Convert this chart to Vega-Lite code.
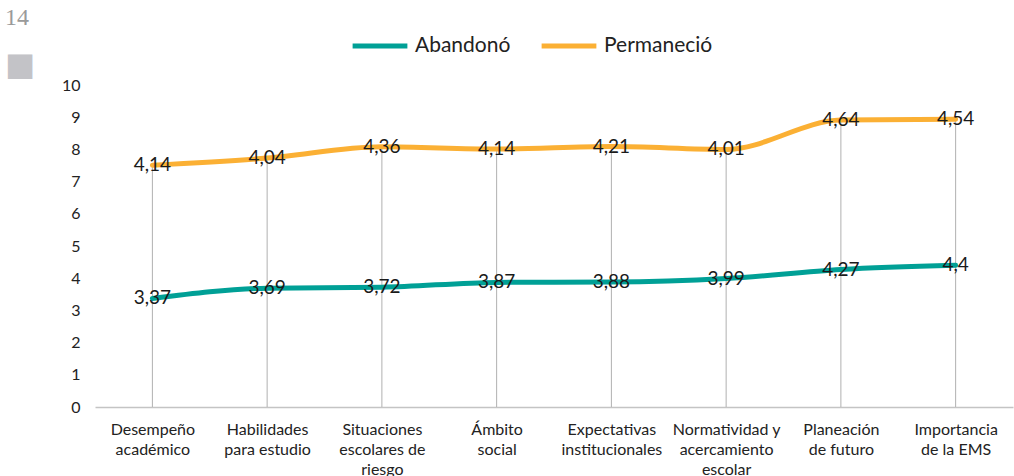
{
  "$schema": "https://vega.github.io/schema/vega-lite/v6.json",
  "width": 918,
  "height": 322,
  "autosize": {"type": "none"},
  "padding": {"left": 95, "top": 85, "right": 1, "bottom": 69},
  "config": {
    "locale": {"number": {"decimal": ",", "thousands": ".", "grouping": [3], "currency": ["", ""]}},
    "view": {"stroke": null},
    "font": "Lato"
  },
  "title": {
    "text": "14",
    "subtitle": "■",
    "anchor": "start",
    "frame": "group",
    "dx": -90,
    "font": "Liberation Serif",
    "fontSize": 24,
    "fontWeight": "normal",
    "color": "#9a9a9a",
    "subtitleFont": "DejaVu Sans",
    "subtitleFontSize": 32,
    "subtitleColor": "#c3c3c7",
    "subtitlePadding": 20,
    "offset": -65
  },
  "data": {
    "values": [
      {"categoria": "Desempeño\nacadémico", "grupo": "Abandonó", "valor": 3.37},
      {"categoria": "Habilidades\npara estudio", "grupo": "Abandonó", "valor": 3.69},
      {"categoria": "Situaciones\nescolares de\nriesgo", "grupo": "Abandonó", "valor": 3.72},
      {"categoria": "Ámbito\nsocial", "grupo": "Abandonó", "valor": 3.87},
      {"categoria": "Expectativas\ninstitucionales", "grupo": "Abandonó", "valor": 3.88},
      {"categoria": "Normatividad y\nacercamiento\nescolar", "grupo": "Abandonó", "valor": 3.99},
      {"categoria": "Planeación\nde futuro", "grupo": "Abandonó", "valor": 4.27},
      {"categoria": "Importancia\nde la EMS", "grupo": "Abandonó", "valor": 4.4},
      {"categoria": "Desempeño\nacadémico", "grupo": "Permaneció", "valor": 4.14},
      {"categoria": "Habilidades\npara estudio", "grupo": "Permaneció", "valor": 4.04},
      {"categoria": "Situaciones\nescolares de\nriesgo", "grupo": "Permaneció", "valor": 4.36},
      {"categoria": "Ámbito\nsocial", "grupo": "Permaneció", "valor": 4.14},
      {"categoria": "Expectativas\ninstitucionales", "grupo": "Permaneció", "valor": 4.21},
      {"categoria": "Normatividad y\nacercamiento\nescolar", "grupo": "Permaneció", "valor": 4.01},
      {"categoria": "Planeación\nde futuro", "grupo": "Permaneció", "valor": 4.64},
      {"categoria": "Importancia\nde la EMS", "grupo": "Permaneció", "valor": 4.54}
    ]
  },
  "encoding": {
    "x": {
      "field": "categoria",
      "type": "nominal",
      "sort": null,
      "scale": {"type": "point", "padding": 0.5},
      "axis": {
        "title": null,
        "labelAngle": 0,
        "labelExpr": "split(datum.label, '\\n')",
        "labelFontSize": 16,
        "labelLineHeight": 20,
        "labelPadding": 14,
        "labelColor": "#222222",
        "labelLimit": 0,
        "ticks": false,
        "grid": false,
        "domainColor": "#c4c4c4",
        "domainWidth": 1.5
      }
    },
    "y": {
      "field": "valor",
      "type": "quantitative",
      "stack": "zero",
      "scale": {"domain": [0, 10], "nice": false},
      "axis": {
        "title": null,
        "values": [0, 1, 2, 3, 4, 5, 6, 7, 8, 9, 10],
        "tickCount": 11,
        "labelOverlap": false,
        "labelSeparation": 0,
        "labelBound": false,
        "domain": false,
        "ticks": false,
        "grid": false,
        "labelFontSize": 16,
        "labelPadding": 15,
        "labelColor": "#222222"
      }
    }
  },
  "layer": [
    {
      "transform": [{"aggregate": [{"op": "sum", "field": "valor", "as": "total"}], "groupby": ["categoria"]}],
      "mark": {"type": "rule", "color": "#b0b0b0", "strokeWidth": 1},
      "encoding": {
        "y": {"field": "total", "type": "quantitative", "stack": null},
        "y2": {"datum": 0}
      }
    },
    {
      "mark": {"type": "line", "strokeWidth": 5, "strokeCap": "round", "interpolate": "monotone"},
      "encoding": {
        "color": {
          "field": "grupo",
          "type": "nominal",
          "scale": {"domain": ["Abandonó", "Permaneció"], "range": ["#00a096", "#fbb034"]},
          "legend": {
            "title": null,
            "orient": "none",
            "legendX": 255,
            "legendY": -69,
            "direction": "horizontal",
            "symbolType": "stroke",
            "symbolStrokeWidth": 5,
            "symbolSize": 3000,
            "labelFontSize": 21,
            "labelColor": "#222222",
            "labelOffset": 5,
            "columnPadding": 20
          }
        },
        "order": {"field": "grupo"}
      }
    },
    {
      "mark": {"type": "text", "fontSize": 19, "color": "#1a1a1a", "baseline": "middle", "align": "center"},
      "encoding": {
        "detail": {"field": "grupo"},
        "order": {"field": "grupo"},
        "text": {"field": "valor", "type": "quantitative", "format": "~g"}
      }
    }
  ]
}
